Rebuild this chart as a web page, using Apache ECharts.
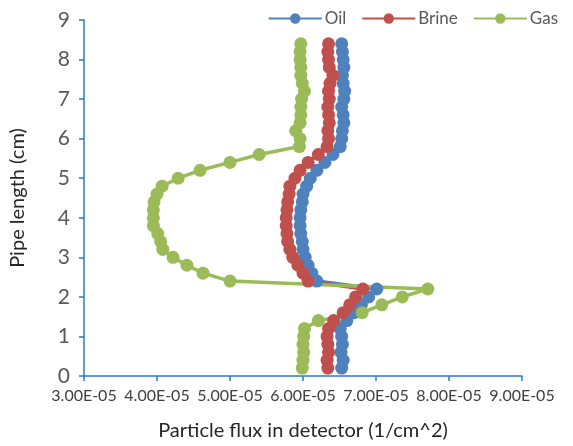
<!DOCTYPE html>
<html>
<head>
<meta charset="utf-8">
<script src="https://cdn.jsdelivr.net/npm/echarts@6/dist/echarts.min.js"></script>
<style>
html,body{margin:0;padding:0;background:#fff;}
#chart{width:573px;height:446px;}
</style>
</head>
<body>
<div id="chart"></div>
<script>
// Pipe length positions (cm)
const pipeLength = [0.2,0.4,0.6,0.8,1.0,1.2,1.4,1.6,1.8,2.0,2.2,2.4,2.6,2.8,3.0,3.2,3.4,3.6,3.8,4.0,4.2,4.4,4.6,4.8,5.0,5.2,5.4,5.6,5.8,6.0,6.2,6.4,6.6,6.8,7.0,7.2,7.4,7.6,7.8,8.0,8.2,8.4];

// Particle flux in detector (1/cm^2)
const oilFlux = [6.53e-5,6.55e-5,6.52e-5,6.54e-5,6.53e-5,6.51e-5,6.60e-5,6.70e-5,6.80e-5,6.90e-5,7.01e-5,
  6.19e-5,6.12e-5,6.07e-5,6.03e-5,6.00e-5,5.99e-5,5.97e-5,5.96e-5,5.96e-5,5.97e-5,5.99e-5,6.00e-5,6.05e-5,6.10e-5,6.19e-5,6.30e-5,6.41e-5,6.51e-5,
  6.53e-5,6.54e-5,6.56e-5,6.55e-5,6.53e-5,6.56e-5,6.57e-5,6.55e-5,6.54e-5,6.56e-5,6.55e-5,6.54e-5,6.53e-5];
const brineFlux = [6.34e-5,6.33e-5,6.35e-5,6.34e-5,6.33e-5,6.35e-5,6.42e-5,6.55e-5,6.64e-5,6.72e-5,6.82e-5,
  6.07e-5,6.00e-5,5.93e-5,5.86e-5,5.82e-5,5.79e-5,5.78e-5,5.77e-5,5.77e-5,5.78e-5,5.79e-5,5.81e-5,5.82e-5,5.89e-5,5.96e-5,6.07e-5,6.21e-5,6.33e-5,
  6.35e-5,6.34e-5,6.36e-5,6.35e-5,6.34e-5,6.36e-5,6.35e-5,6.37e-5,6.41e-5,6.36e-5,6.35e-5,6.34e-5,6.35e-5];
const gasFlux = [5.99e-5,6.00e-5,6.01e-5,6.00e-5,6.01e-5,6.02e-5,6.21e-5,6.81e-5,7.08e-5,7.36e-5,7.71e-5,
  5.00e-5,4.63e-5,4.41e-5,4.22e-5,4.08e-5,4.05e-5,4.01e-5,3.95e-5,3.95e-5,3.95e-5,3.96e-5,4.00e-5,4.07e-5,4.29e-5,4.59e-5,5.00e-5,5.40e-5,5.95e-5,
  5.96e-5,5.90e-5,5.96e-5,5.97e-5,5.97e-5,5.98e-5,6.02e-5,5.99e-5,5.97e-5,5.97e-5,5.96e-5,5.96e-5,5.97e-5];

const seriesNames = ['Oil','Brine','Gas'];
const seriesColors = ['#4F81BD','#C0504D','#9BBB59'];
const xMin = 3e-5, xMax = 9e-5, xStep = 1e-5;
const yMin = 0, yMax = 9, yStep = 1;

function pair(xs){ return xs.map((x,i)=>[x,pipeLength[i]]); }
function sci(v){
  const s = v.toExponential(2).split('e');
  const e = parseInt(s[1],10);
  const sign = e < 0 ? '-' : '+';
  const a = Math.abs(e);
  return s[0] + 'E' + sign + (a < 10 ? '0' + a : a);
}

const FONT = 'Lato';
const chart = echarts.init(document.getElementById('chart'), null, {renderer:'canvas'});
const fluxes = [oilFlux, brineFlux, gasFlux];

chart.setOption({
  animation:false,
  backgroundColor:'#ffffff',
  textStyle:{fontFamily:FONT},
  legend:{
    right:10, top:5,
    itemWidth:53, itemHeight:13, itemGap:15,
    textStyle:{fontSize:17, color:'#595959', fontFamily:FONT, padding:[0,0,0,-2]},
    data:seriesNames
  },
  grid:{left:84, right:51, top:20, bottom:66, containLabel:false},
  xAxis:{
    type:'value', min:xMin, max:xMax, interval:xStep,
    name:'Particle flux in detector (1/cm^2)',
    nameLocation:'middle', nameGap:45,
    nameTextStyle:{fontSize:20, color:'#262626', fontFamily:FONT},
    axisLine:{show:true, onZero:false, lineStyle:{color:'#2E7BC4', width:1.5}},
    axisTick:{show:true, inside:false, length:5, lineStyle:{color:'#2E7BC4', width:1.5}},
    axisLabel:{fontSize:16, color:'#404040', margin:12, fontFamily:FONT, formatter:function(v){return sci(v);}},
    splitLine:{show:false}
  },
  yAxis:{
    type:'value', min:yMin, max:yMax, interval:yStep,
    name:'Pipe length (cm)',
    nameLocation:'middle', nameGap:56,
    nameTextStyle:{fontSize:20, color:'#262626', fontFamily:FONT},
    axisLine:{show:true, onZero:false, lineStyle:{color:'#2E7BC4', width:1.5}},
    axisTick:{show:true, inside:false, length:5, lineStyle:{color:'#2E7BC4', width:1.5}},
    axisLabel:{fontSize:21, color:'#595959', margin:14, fontFamily:FONT},
    splitLine:{show:false}
  },
  series: seriesNames.map((n,i)=>({
    name:n, type:'line',
    data:pair(fluxes[i]),
    symbol:'circle', symbolSize:13,
    lineStyle:{color:seriesColors[i], width:3.5},
    itemStyle:{color:seriesColors[i]},
    emphasis:{disabled:true}
  }))
});
</script>
</body>
</html>
